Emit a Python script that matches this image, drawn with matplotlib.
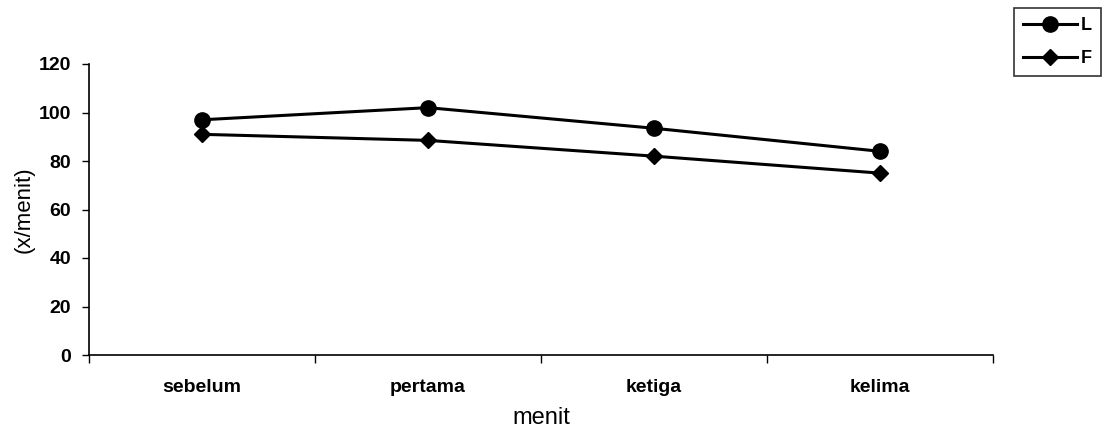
import matplotlib
matplotlib.use("Agg")
import matplotlib.pyplot as plt
import numpy as np

plt.rcParams['font.family'] = ['Liberation Sans', 'DejaVu Sans']

categories = ["sebelum", "pertama", "ketiga", "kelima"]
L_values = [97, 102, 93.5, 84]
F_values = [91, 88.5, 82, 75]
y_ticks = [0, 20, 40, 60, 80, 100, 120]

fig = plt.figure(figsize=(11.04, 4.33), dpi=100)
ax = fig.add_axes([89/1104, 1-355/433, (993-89)/1104, (355-64)/433])

x = np.arange(len(categories)) + 0.5
ax.plot(x, L_values, color='black', lw=2.2, marker='o', ms=11, label='L')
ax.plot(x, F_values, color='black', lw=2.2, marker='D', ms=8, label='F')

ax.set_xlim(0, len(categories))
ax.set_ylim(0, 120)
ax.set_yticks(y_ticks)
ax.set_yticklabels([str(v) for v in y_ticks], fontsize=14, fontweight='bold')
ax.set_xticks(np.arange(len(categories) + 1))
ax.set_xticklabels([])
ax.set_xticks(x, minor=True)
ax.set_xticklabels(categories, minor=True, fontsize=14, fontweight='bold')
ax.tick_params(axis='x', which='minor', length=0, pad=17)
ax.tick_params(axis='x', which='major', length=6, direction='out', width=1)
ax.tick_params(axis='y', length=5, direction='out', width=1, pad=8)

for s in ['top', 'right']:
    ax.spines[s].set_visible(False)
for s in ['left', 'bottom']:
    ax.spines[s].set_linewidth(1.2)

ax.set_ylabel("(x/menit)", fontsize=16, labelpad=3)
ax.set_xlabel("menit", fontsize=17, labelpad=8)

leg = fig.legend(loc='upper right', bbox_to_anchor=(1101/1104, 1-8/433),
                 frameon=True, fancybox=False, edgecolor='black',
                 prop={'weight': 'bold', 'size': 13}, handlelength=3.0,
                 handletextpad=0.2, borderpad=0.5, labelspacing=0.9,
                 borderaxespad=0)
leg.get_frame().set_linewidth(1.2)

fig.savefig("out.png", dpi=100)
